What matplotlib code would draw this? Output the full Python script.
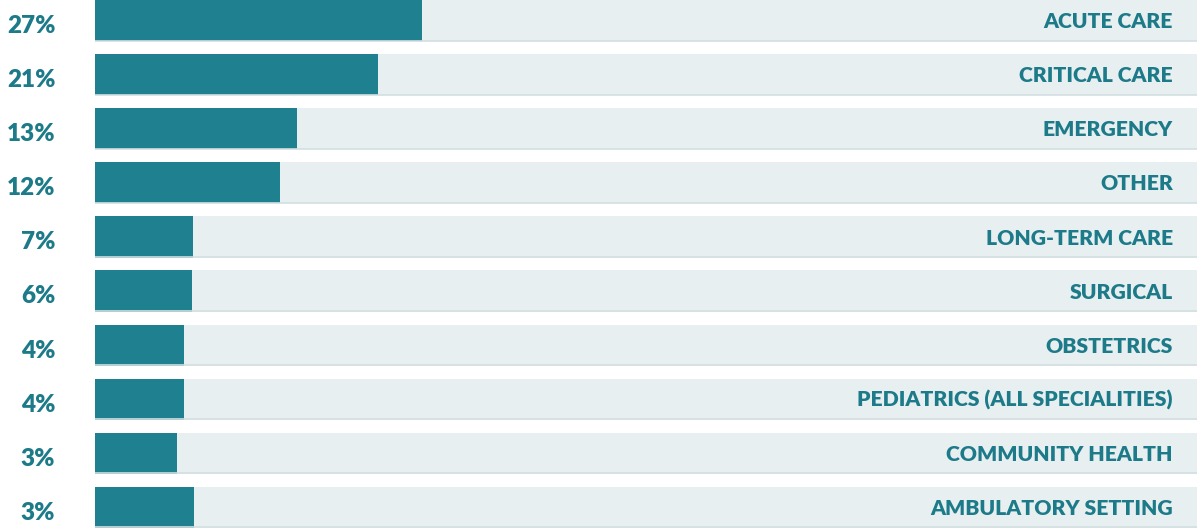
import matplotlib.pyplot as plt

categories = ['ACUTE CARE', 'CRITICAL CARE', 'EMERGENCY', 'OTHER', 'LONG-TERM CARE',
              'SURGICAL', 'OBSTETRICS', 'PEDIATRICS (ALL SPECIALITIES)',
              'COMMUNITY HEALTH', 'AMBULATORY SETTING']
pct_labels = ['27%', '21%', '13%', '12%', '7%', '6%', '4%', '4%', '3%', '3%']
# bar fill as drawn in the picture (share of the full track)
fill = [29.7, 25.7, 18.3, 16.8, 8.9, 8.8, 8.1, 8.1, 7.4, 9.0]

bar_color = '#1f8090'
track_color = '#e7eff1'
edge_color = '#d3dfe2'
text_color = '#1d7a88'

fig = plt.figure(figsize=(12, 5.28), dpi=100)
ax = fig.add_axes([95 / 1200, 0, 1102 / 1200, 1])

h = 0.76
for i, (cat, lab, v) in enumerate(zip(categories, pct_labels, fill)):
    ax.barh(i, 100, height=h, color=track_color, left=0)
    ax.plot([0, 100], [i + h / 2 - 0.01] * 2, color=edge_color, lw=1.2)
    ax.barh(i, v, height=h, color=bar_color, left=0)
    ax.text(97.8, i + 0.02, cat, ha='right', va='center', color=text_color,
            fontsize=15.2, fontweight='heavy', family='Lato')
    ax.text(-3.6, i + 0.1, lab, ha='right', va='center', color=text_color,
            fontsize=17.5, fontweight='heavy', family='Lato', clip_on=False)

ax.set_xlim(0, 100)
ax.set_ylim(len(categories) - 1 + h / 2, -h / 2)
ax.axis('off')

fig.savefig('out.png', dpi=100)
